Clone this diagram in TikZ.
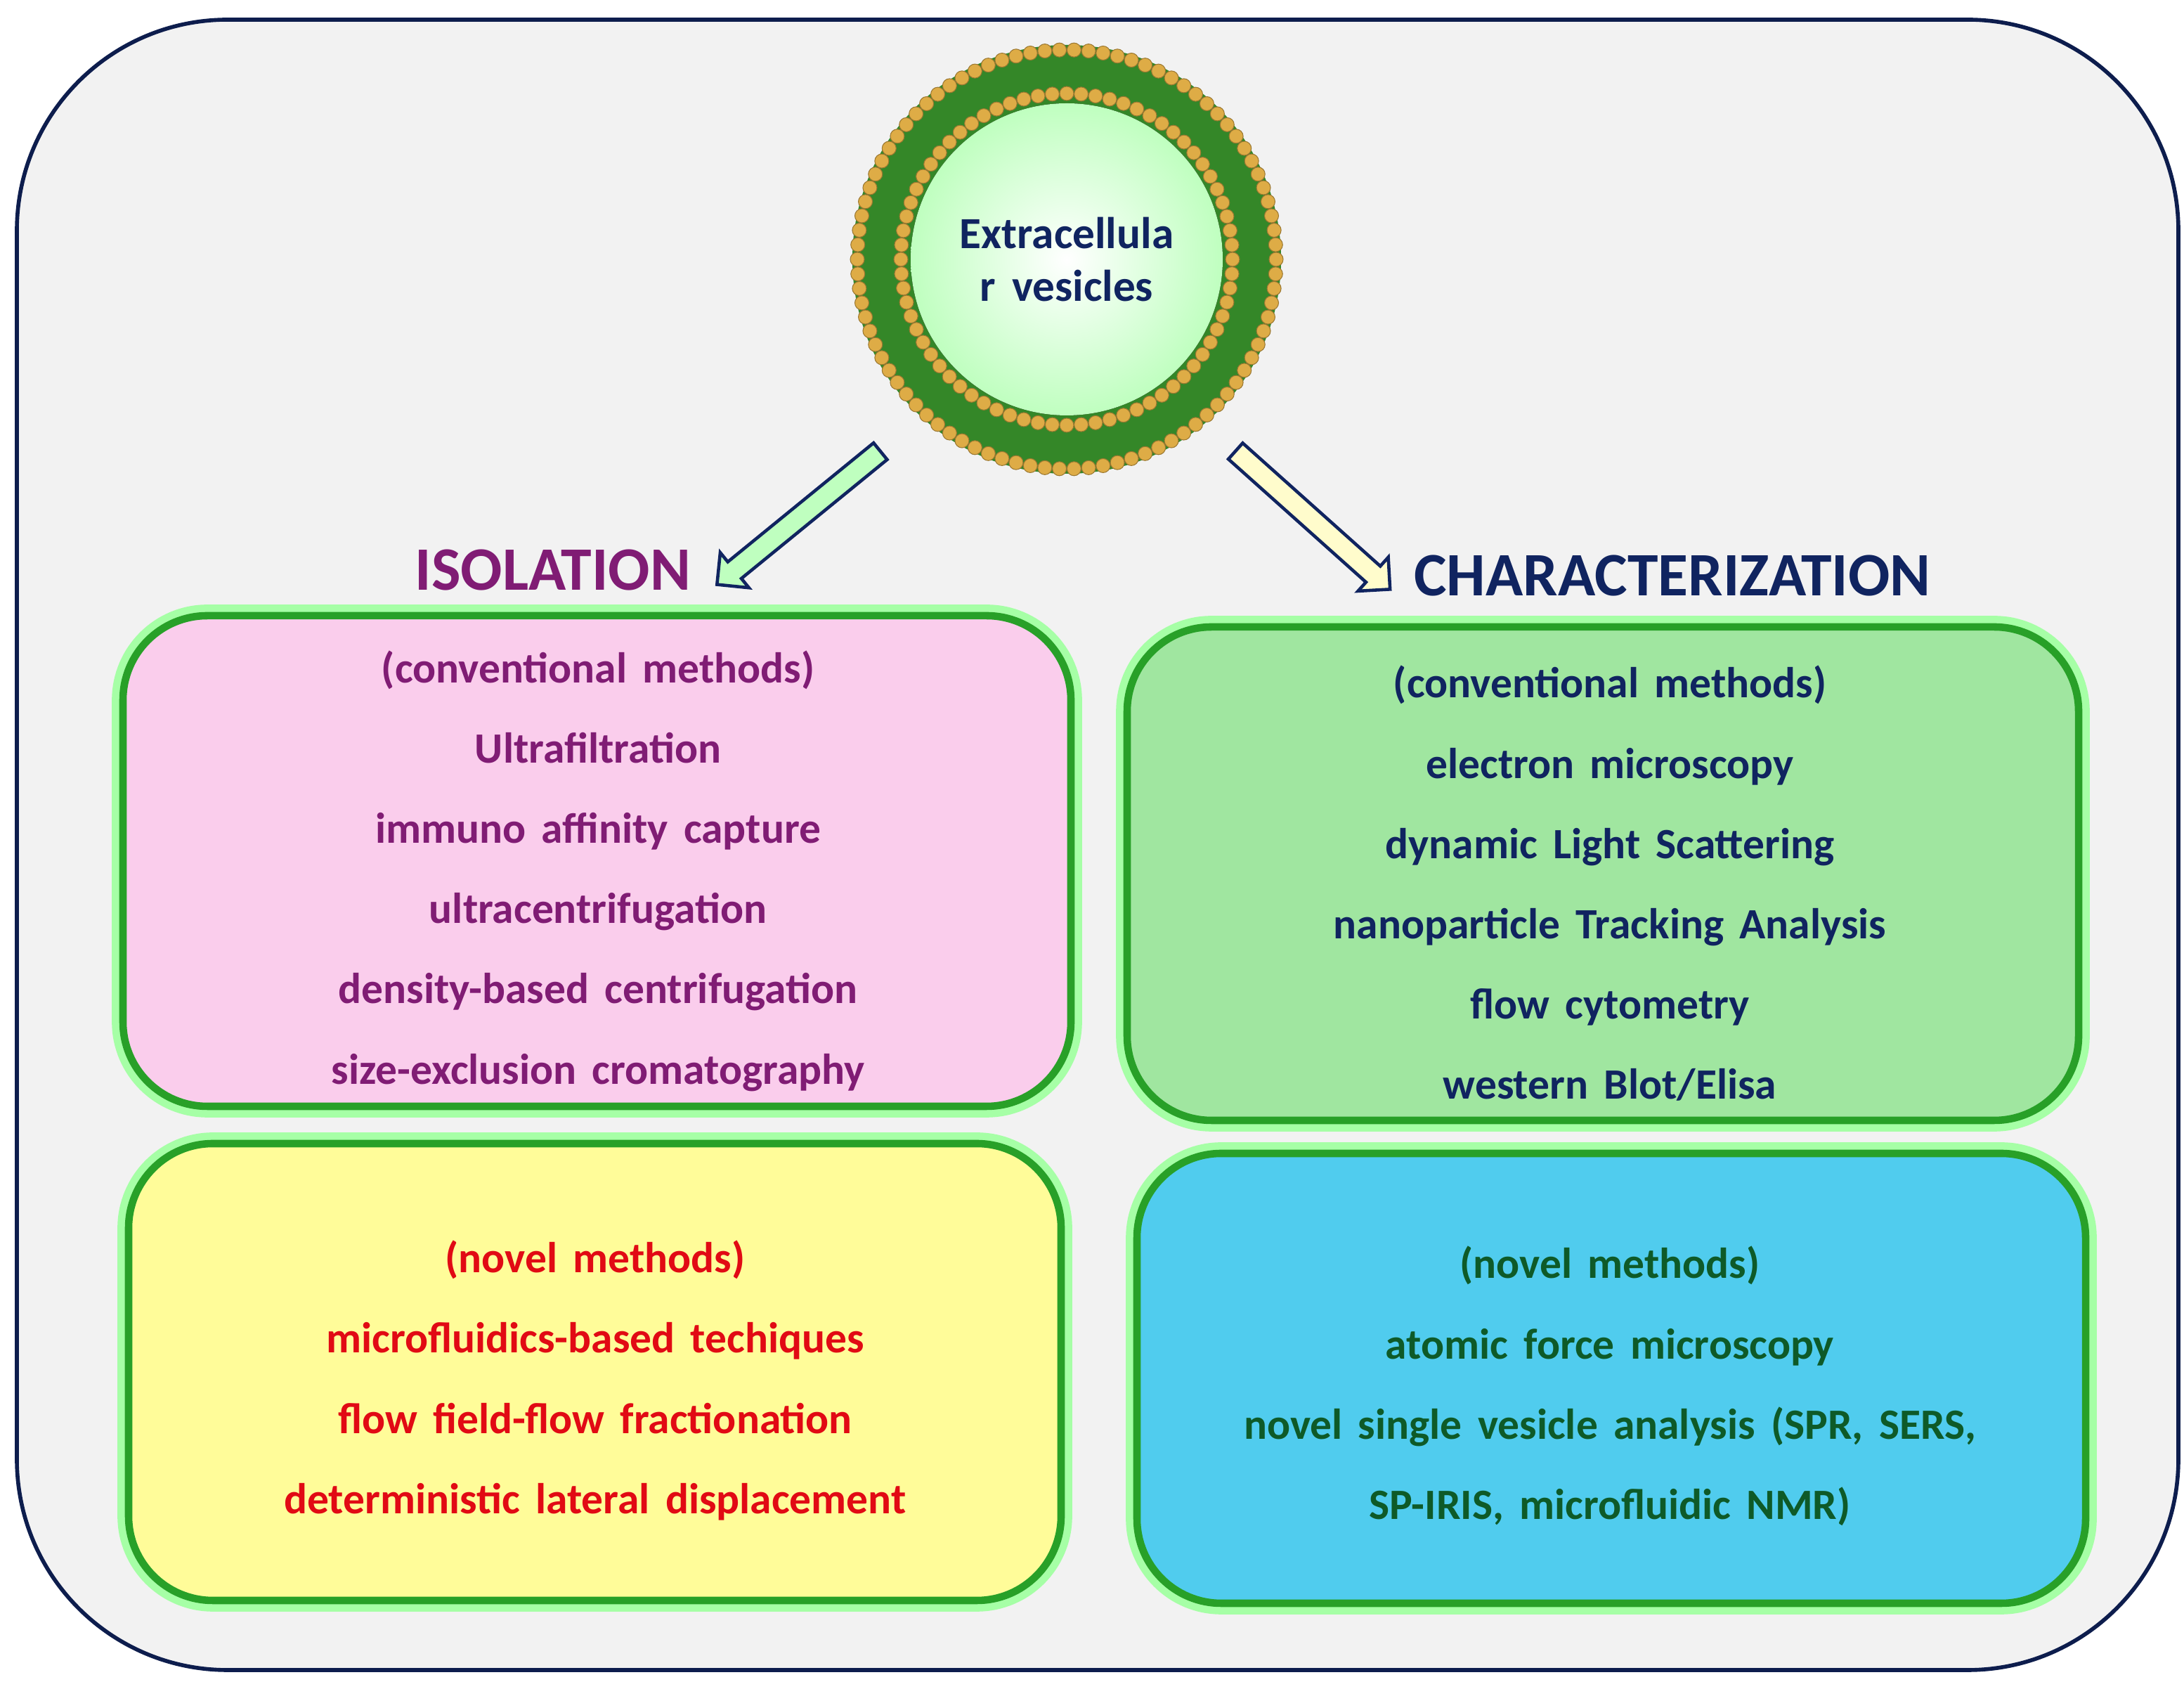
\documentclass[tikz,border=0pt]{standalone}
\usepackage{fontspec}
\setmainfont{Carlito}[WordSpace=1.6]
\usepackage{xcolor}
\usetikzlibrary{shapes,arrows,positioning,calc}
\definecolor{isol}{RGB}{128,28,116}
\definecolor{charz}{RGB}{16,36,96}
\definecolor{novred}{RGB}{225,10,20}
\definecolor{novgreen}{RGB}{14,90,40}
\definecolor{ringgreen}{RGB}{52,135,40}
\definecolor{bead}{RGB}{222,172,70}
\definecolor{boxline}{RGB}{40,160,40}
\definecolor{pinkbox}{RGB}{250,205,236}
\definecolor{greenbox}{RGB}{160,230,160}
\definecolor{yellowbox}{RGB}{255,252,153}
\definecolor{bluebox}{RGB}{80,204,238}

\begin{document}
\begin{tikzpicture}[
    box/.style={draw=boxline, line width=3pt, rounded corners=1.2cm,
        preaction={draw=green!35, line width=9pt}},
    txt/.style={align=center, font=\fontsize{17.5}{32.5}\selectfont\bfseries},
    heading/.style={font=\fontsize{25}{30}\selectfont\bfseries},
    bigarrow/.style={single arrow, draw=charz, line width=1.3pt, inner sep=0.13cm,
        single arrow head extend=0.17cm, single arrow tip angle=90}
]
    \useasboundingbox (0,0) rectangle (31.08,23.93);
    % Background
    \draw[fill=gray!10, draw=charz!80!black, line width=1.6pt, rounded corners=3cm]
        (0.24,0.17) rectangle (31.0,23.65);

    % Vesicle
    \coordinate (ev) at (15.18,20.24);
    \fill[ringgreen] (ev) circle (3.05cm);
    \foreach \a in {0,4,...,356}
        \fill[bead, draw=bead!70!black, line width=0.3pt] ($(ev)+(\a:2.98)$) circle (0.1cm);
    \foreach \a in {0,5,...,355}
        \fill[bead, draw=bead!70!black, line width=0.3pt] ($(ev)+(\a:2.36)$) circle (0.1cm);
    \fill[inner color=white, outer color=green!25] (ev) circle (2.22cm);
    \node[align=center, text=charz, font=\fontsize{18}{21.5}\selectfont\bfseries] (vesicle) at (ev)
        {Extracellula\\r vesicles};

    % Headings
    \node[heading, text=isol] (isolation) at (7.87,15.82) {ISOLATION};
    \node[heading, text=charz] (charact) at (23.80,15.74) {CHARACTERIZATION};

    % Arrows
    \coordinate (la) at (12.59,17.56);
    \coordinate (lb) at (10.26,15.66);
    \coordinate (ra) at (17.53,17.56);
    \coordinate (rb) at (19.72,15.60);
    \node[bigarrow, fill=green!25, minimum height=3.0cm, rotate=219.2] (leftarrow)
        at ($(la)!0.5!(lb)$) {};
    \node[bigarrow, fill=yellow!20, minimum height=2.95cm, rotate=-41.8] (rightarrow)
        at ($(ra)!0.5!(rb)$) {};

    % Boxes
    \draw[box, fill=pinkbox] (1.75,8.19) rectangle (15.24,15.17);
    \draw[box, fill=greenbox] (16.04,7.99) rectangle (29.58,15.01);
    \draw[box, fill=yellowbox] (1.83,1.16) rectangle (15.10,7.66);
    \draw[box, fill=bluebox] (16.18,1.12) rectangle (29.68,7.52);

    % Box texts
    \node[txt, text=isol] (isolconv) at (8.51,11.54) {(conventional methods)\\Ultrafiltration\\
        immuno affinity capture\\ultracentrifugation\\density-based centrifugation\\
        size-exclusion cromatography};
    \node[txt, text=charz] (charconv) at (22.91,11.36) {(conventional methods)\\electron microscopy\\
        dynamic Light Scattering\\nanoparticle Tracking Analysis\\flow cytometry\\western Blot/Elisa};
    \node[txt, text=novred] (isolnovel) at (8.47,4.29) {(novel methods)\\microfluidics-based techiques\\
        flow field-flow fractionation\\deterministic lateral displacement};
    \node[txt, text=novgreen] (charnovel) at (22.91,4.21) {(novel methods)\\atomic force microscopy\\
        novel single vesicle analysis (SPR, SERS,\\SP-IRIS, microfluidic NMR)};
\end{tikzpicture}
\end{document}
